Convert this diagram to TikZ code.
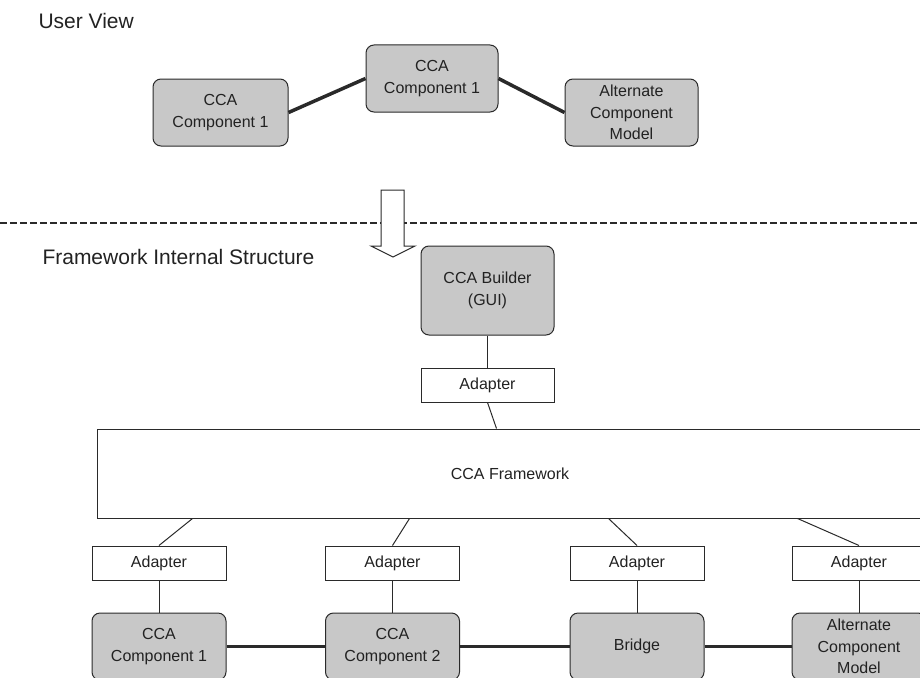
\documentclass[tikz,border=0pt]{standalone}
\usepackage{fontspec}
\setmainfont{Liberation Sans}
\usetikzlibrary{positioning}
\definecolor{cfill}{HTML}{C8C8C8}
\definecolor{cline}{HTML}{2A2A2A}
\definecolor{ctext}{HTML}{222222}
\tikzset{
  every picture/.style={x=1pt, y=-1pt, line width=1pt},
  comp/.style={draw=cline, fill=cfill, rounded corners=8pt, align=center, inner sep=0pt, minimum width=134pt, minimum height=67pt, text=ctext, font=\fontsize{16}{21.5}\selectfont},
  adapt/.style={draw=cline, fill=white, inner sep=0pt, minimum width=134pt, minimum height=34pt, text=ctext, font=\fontsize{16}{21.5}\selectfont},
  link/.style={draw=cline, line width=3.5pt},
  wire/.style={draw=cline, line width=1pt},
  title/.style={anchor=west, inner sep=0pt, text=ctext, font=\fontsize{21}{25}\selectfont},
}

\begin{document}
\begin{tikzpicture}
  \useasboundingbox (0,0) rectangle (920,677);
  \clip (0,0) rectangle (920,677);
  % user view
  \node[title] (uv) at (38,21) {User View};
  \node[comp, minimum width=135pt] (u1) at (220.5,112.5) {CCA\\Component 1};
  \node[comp, minimum width=132pt] (u2) at (432,78.5) {CCA\\Component 1};
  \node[comp, minimum width=133pt] (u3) at (631.5,112.5) {Alternate\\Component\\Model};
  \draw[link] (u1.east) -- (u2.west);
  \draw[link] (u2.east) -- (u3.west);
  % divider and hollow arrow
  \coordinate (dl) at (0,223);
  \coordinate (dr) at (920,223);
  \draw[cline, line width=2pt, dash pattern=on 7pt off 3pt] (dl) -- (dr);
  \draw[cline, fill=white] (381,190) -- (404,190) -- (404,246) -- (415,246) -- (393,257)
    -- (371,246) -- (381,246) -- cycle;
  % framework internals
  \node[title] (fis) at (42,257) {Framework Internal Structure};
  \node[comp, minimum width=133pt, minimum height=89pt] (gui) at (487.5,290.5) {CCA Builder\\(GUI)};
  \node[adapt, minimum width=133pt] (a0) at (487.5,385) {Adapter};
  \node[adapt, minimum width=826pt, minimum height=89pt] (fw) at (510,473.5) {CCA Framework};
  \node[adapt] (a1) at (159,563) {Adapter};
  \node[adapt] (a2) at (392.5,563) {Adapter};
  \node[adapt] (a3) at (637,563) {Adapter};
  \node[adapt] (a4) at (859,563) {Adapter};
  \node[comp] (c1) at (159,646.5) {CCA\\Component 1};
  \node[comp] (c2) at (392.5,646.5) {CCA\\Component 2};
  \node[comp] (br) at (637,646.5) {Bridge};
  \node[comp] (c4) at (859,646.5) {Alternate\\Component\\Model};
  \draw[wire] (gui) -- (a0);
  \draw[wire] (a0.south) -- ([xshift=400pt]fw.north west);
  \draw[wire] ([xshift=96pt]fw.south west) -- (a1.north);
  \draw[wire] ([xshift=313pt]fw.south west) -- (a2.north);
  \draw[wire] ([xshift=512pt]fw.south west) -- (a3.north);
  \draw[wire] ([xshift=701pt]fw.south west) -- (a4.north);
  \foreach \a/\c in {a1/c1, a2/c2, a3/br, a4/c4}
    \draw[wire] (\a) -- (\c);
  \draw[link] (c1) -- (c2);
  \draw[link] (c2) -- (br);
  \draw[link] (br) -- (c4);
\end{tikzpicture}
\end{document}
